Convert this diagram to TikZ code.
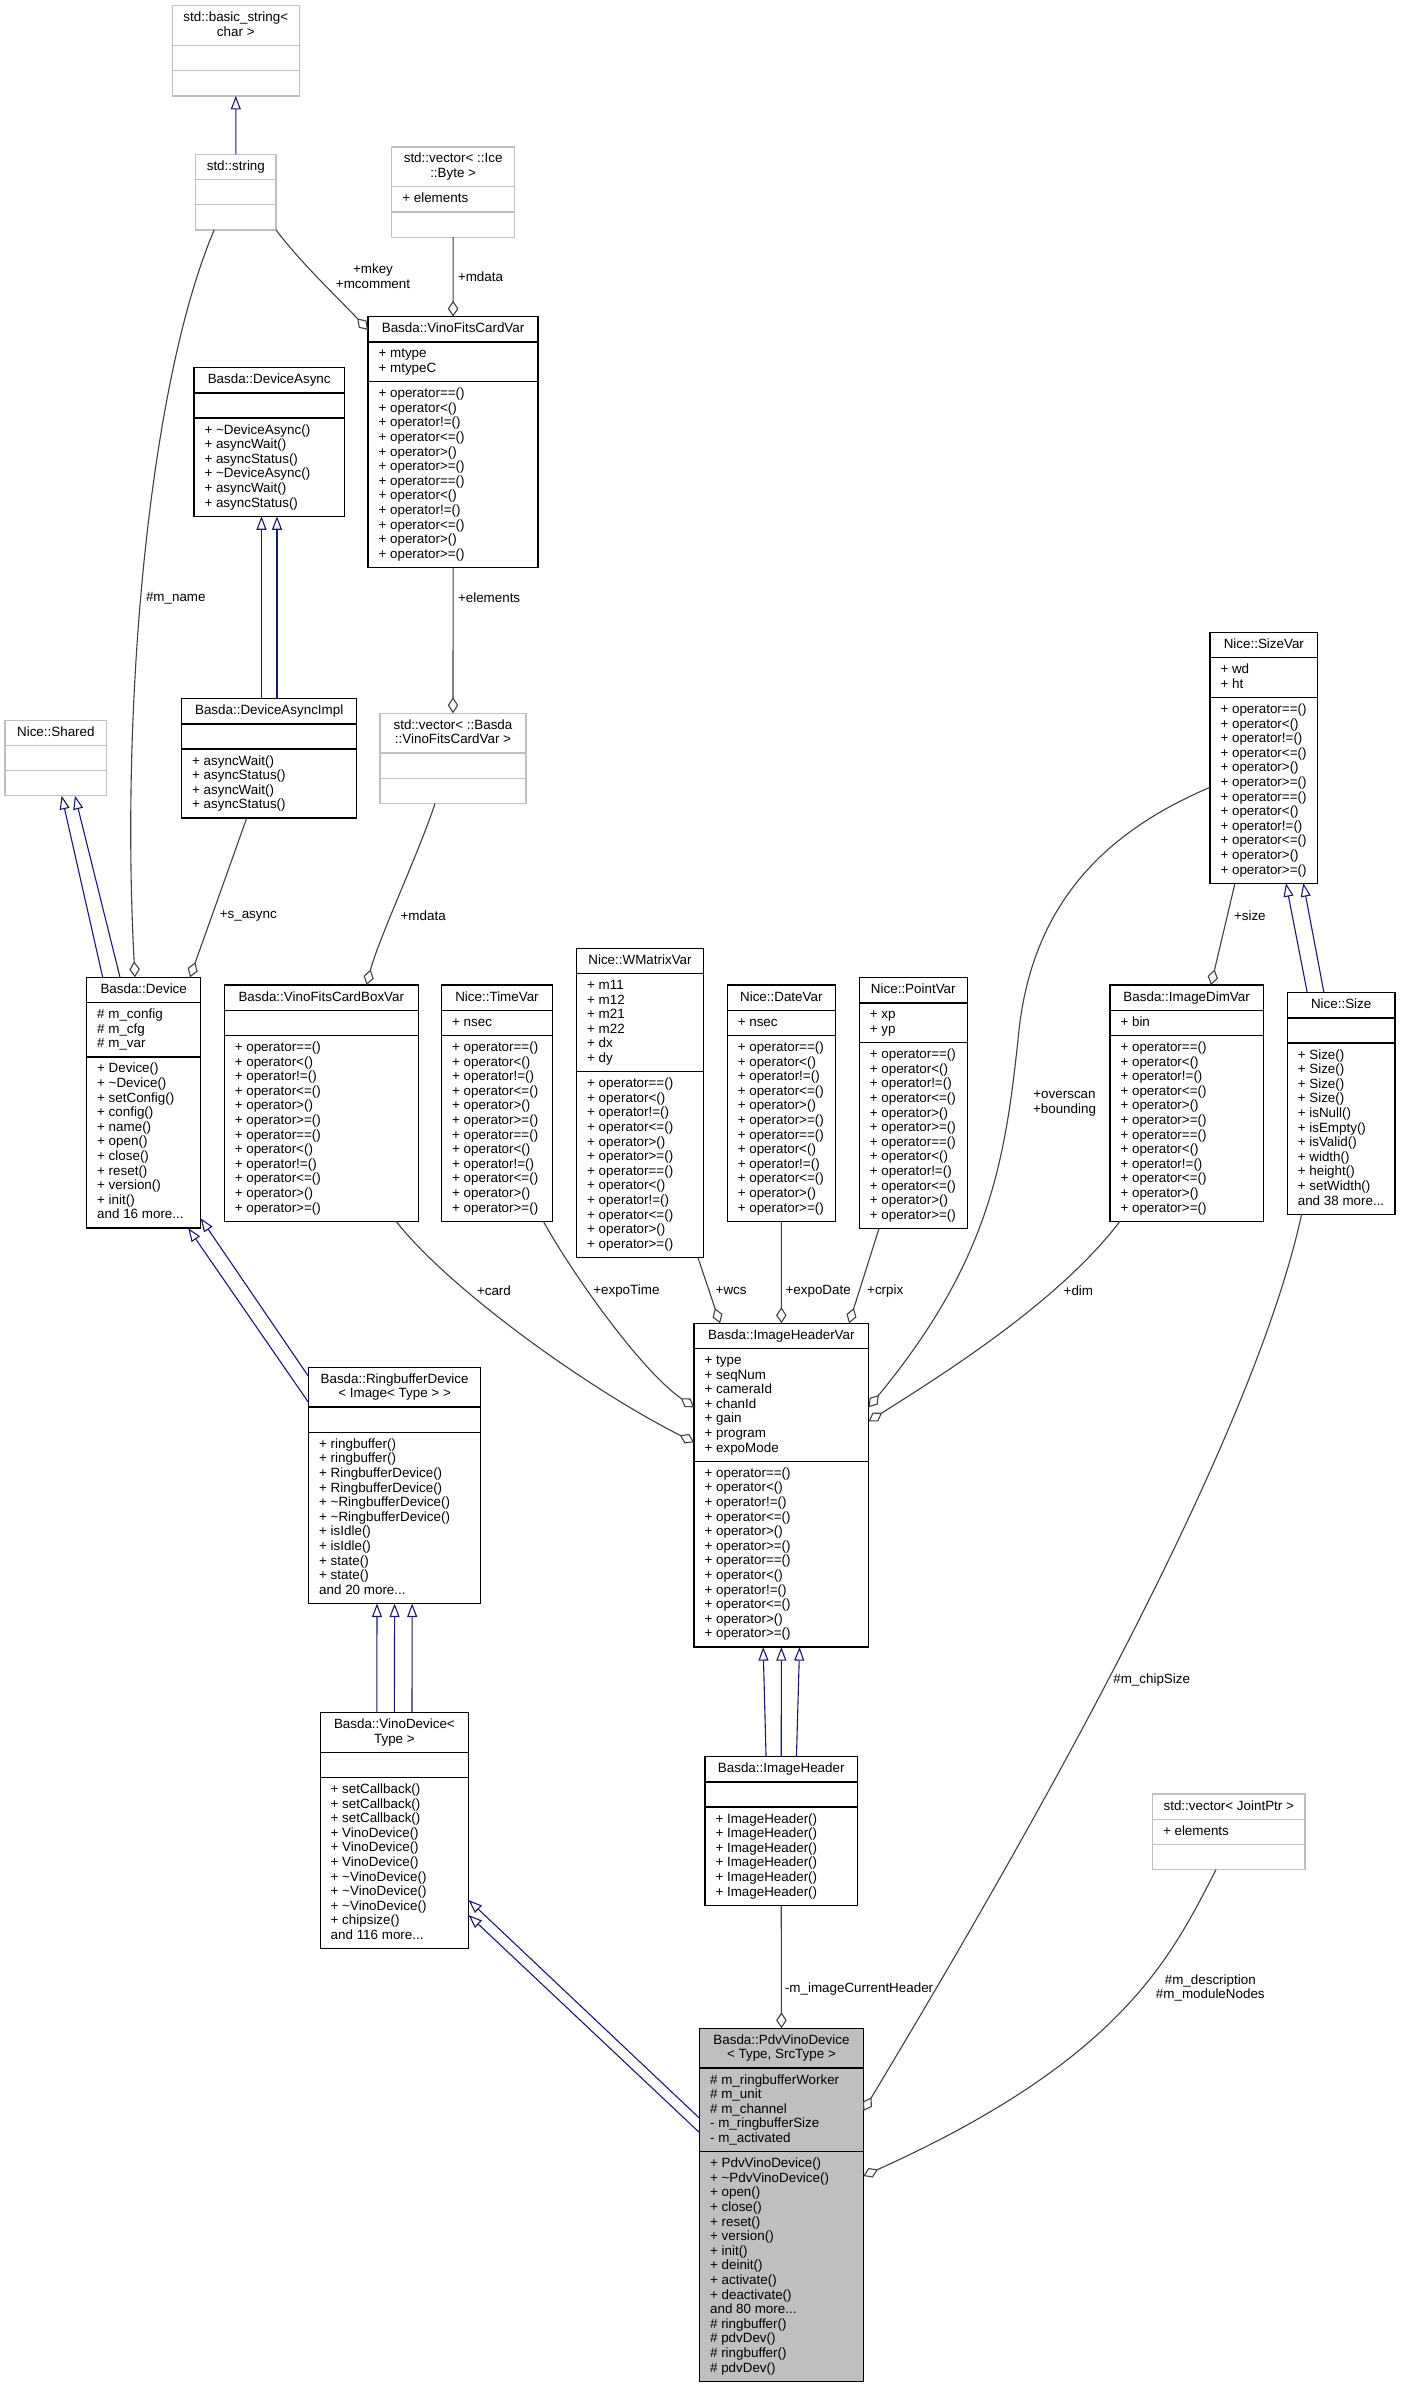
\documentclass[tikz,border=0pt]{standalone}
\usepackage{fontspec}
\setmainfont{Liberation Sans}
\usetikzlibrary{arrows.meta,calc}
\definecolor{grey75}{HTML}{BFBFBF}
\definecolor{edgegray}{HTML}{404040}
\definecolor{inhblue}{HTML}{191970}
\newcommand\ufont{\fontsize{13.4}{14.6}\selectfont}
\newcommand\tld{\textasciitilde}
\newcommand\mdots{...}
\def\opslist{+ operator==(),+ operator<(),+ operator!=(),+ operator<=(),+ operator>(),+ operator>=(),+ operator==(),+ operator<(),+ operator!=(),+ operator<=(),+ operator>(),+ operator>=()}
% #1 name, #2 x, #3 y, #4 width, #5 border (and fill), #6 title lines, #7 attributes, #8 methods
\newcommand\ucls[8]{%
  \gdef\nT{0}\gdef\nA{0}\gdef\nM{0}%
  \expandafter\def\expandafter\tmpT\expandafter{#6}%
  \expandafter\def\expandafter\tmpA\expandafter{#7}%
  \expandafter\def\expandafter\tmpM\expandafter{#8}%
  \ifx\tmpT\empty\else\foreach \ct in \tmpT {\xdef\nT{\the\numexpr\nT+1\relax}}\fi
  \ifx\tmpA\empty\else\foreach \ct in \tmpA {\xdef\nA{\the\numexpr\nA+1\relax}}\fi
  \ifx\tmpM\empty\else\foreach \ct in \tmpM {\xdef\nM{\the\numexpr\nM+1\relax}}\fi
  \pgfmathsetmacro\hT{max(\nT,1)*14.6+10.6}%
  \pgfmathsetmacro\hA{max(\nA,1)*14.6+10.6}%
  \pgfmathsetmacro\hM{max(\nM,1)*14.6+10.6}%
  \pgfmathsetmacro\hTot{\hT+\hA+\hM}%
  \pgfmathsetmacro\hTA{\hT+\hA}%
  \node[ubox,draw=#5,minimum width=#4,minimum height=\hTot,anchor=north west] (#1) at (#2,#3) {};
  \draw[divider,draw=#5] ($(#1.north west)+(0,\hT)$) -- ($(#1.north east)+(0,\hT)$);
  \draw[divider,draw=#5] ($(#1.north west)+(0,\hTA)$) -- ($(#1.north east)+(0,\hTA)$);
  \ifx\tmpT\empty\else\foreach \ct [count=\ci] in \tmpT {\node[utxt,anchor=base] (#1-t\ci) at ($(#1.north)+(0,{16+(\ci-1)*14.6})$) {\ct};}\fi
  \ifx\tmpA\empty\else\foreach \ct [count=\ci] in \tmpA {\node[utxt,anchor=base west] (#1-a\ci) at ($(#1.north west)+(10.5,{\hT+16+(\ci-1)*14.6})$) {\ct};}\fi
  \ifx\tmpM\empty\else\foreach \ct [count=\ci] in \tmpM {\node[utxt,anchor=base west] (#1-m\ci) at ($(#1.north west)+(10.5,{\hTA+16+(\ci-1)*14.6})$) {\ct};}\fi
}
\begin{document}
\begin{tikzpicture}[x=1pt,y=-1pt,
  ubox/.style={rectangle,draw=black,fill=white,line width=1.3,inner sep=0,outer sep=0},
  divider/.style={line width=1.3},
  utxt/.style={inner sep=0,outer sep=0,font=\ufont,text=black},
  lbl/.style={inner sep=0,outer sep=0,font=\ufont,text=black},
  agg/.style={draw=edgegray,line width=1.1,-{Diamond[open,length=16pt,width=10.5pt]}},
  inh/.style={draw=inhblue,line width=1.1,-{Triangle[open,length=13.5pt,width=10pt]}}]
\fill[white] (0,0) rectangle (1401,2389);
\useasboundingbox (0,0) rectangle (1401,2389);

% ---------- classes ----------
\ucls{bstr}{172.3}{5.7}{127}{grey75}{std::basic\_string<,char >}{}{}
\ucls{str}{195.7}{154.3}{80.3}{grey75}{std::string}{}{}
\ucls{vib}{391.8}{147}{122.7}{grey75}{std::vector< ::Ice,::Byte >}{+ elements}{}
\ucls{vfcv}{368.1}{316.7}{170}{black}{Basda::VinoFitsCardVar}{+ mtype,+ mtypeC}{\opslist}
\ucls{da}{194}{367.7}{150.4}{black}{Basda::DeviceAsync}{}{+ \tld DeviceAsync(),+ asyncWait(),+ asyncStatus(),+ \tld DeviceAsync(),+ asyncWait(),+ asyncStatus()}
\ucls{dai}{181.7}{698.7}{175}{black}{Basda::DeviceAsyncImpl}{}{+ asyncWait(),+ asyncStatus(),+ asyncWait(),+ asyncStatus()}
\ucls{shared}{5}{720.2}{101.7}{grey75}{Nice::Shared}{}{}
\ucls{vvfcv}{380}{713.3}{146}{grey75}{std::vector< ::Basda,::VinoFitsCardVar >}{}{}
\ucls{dev}{86.7}{977.3}{114}{black}{Basda::Device}{\# m\_config,\# m\_cfg,\# m\_var}{+ Device(),+ \tld Device(),+ setConfig(),+ config(),+ name(),+ open(),+ close(),+ reset(),+ version(),+ init(),and 16 more\mdots}
\ucls{vfcbv}{224.3}{985}{194}{black}{Basda::VinoFitsCardBoxVar}{}{\opslist}
\ucls{tv}{441.7}{985}{110.6}{black}{Nice::TimeVar}{+ nsec}{\opslist}
\ucls{wm}{576.7}{948.3}{126.6}{black}{Nice::WMatrixVar}{+ m11,+ m12,+ m21,+ m22,+ dx,+ dy}{\opslist}
\ucls{dv}{727.3}{985}{108}{black}{Nice::DateVar}{+ nsec}{\opslist}
\ucls{pv}{859.3}{977.7}{108}{black}{Nice::PointVar}{+ xp,+ yp}{\opslist}
\ucls{sv}{1210}{632.4}{107.7}{black}{Nice::SizeVar}{+ wd,+ ht}{\opslist}
\ucls{idv}{1110}{985.1}{153.3}{black}{Basda::ImageDimVar}{+ bin}{\opslist}
\ucls{sz}{1287.3}{992.7}{107.7}{black}{Nice::Size}{}{+ Size(),+ Size(),+ Size(),+ Size(),+ isNull(),+ isEmpty(),+ isValid(),+ width(),+ height(),+ setWidth(),and 38 more\mdots}
\ucls{rbd}{308.7}{1367.3}{171.8}{black}{Basda::RingbufferDevice,< Image< Type > >}{}{+ ringbuffer(),+ ringbuffer(),+ RingbufferDevice(),+ RingbufferDevice(),+ \tld RingbufferDevice(),+ \tld RingbufferDevice(),+ isIdle(),+ isIdle(),+ state(),+ state(),and 20 more\mdots}
\ucls{ihv}{694.1}{1323.3}{174.5}{black}{Basda::ImageHeaderVar}{+ type,+ seqNum,+ cameraId,+ chanId,+ gain,+ program,+ expoMode}{\opslist}
\ucls{vd}{320.2}{1712.5}{148.4}{black}{Basda::VinoDevice<,Type >}{}{+ setCallback(),+ setCallback(),+ setCallback(),+ VinoDevice(),+ VinoDevice(),+ VinoDevice(),+ \tld VinoDevice(),+ \tld VinoDevice(),+ \tld VinoDevice(),+ chipsize(),and 116 more\mdots}
\ucls{ih}{705}{1756.7}{152.5}{black}{Basda::ImageHeader}{}{+ ImageHeader(),+ ImageHeader(),+ ImageHeader(),+ ImageHeader(),+ ImageHeader(),+ ImageHeader()}
\ucls{vjp}{1152.5}{1794}{152.5}{grey75}{std::vector< JointPtr >}{+ elements}{}
\ucls{pvd}{699.6}{2028.3}{163.7}{black,fill=grey75}{Basda::PdvVinoDevice,{< Type, SrcType >}}{\# m\_ringbufferWorker,\# m\_unit,\# m\_channel,- m\_ringbufferSize,- m\_activated}{+ PdvVinoDevice(),+ \tld PdvVinoDevice(),+ open(),+ close(),+ reset(),+ version(),+ init(),+ deinit(),+ activate(),+ deactivate(),and 80 more\mdots,\# ringbuffer(),\# pdvDev(),\# ringbuffer(),\# pdvDev()}

% ---------- inheritance ----------
\draw[inh] (str.north) -- (bstr.south);
\draw[inh] ([xshift=-7.7]dai.north) -- ([xshift=-7.7]da.south);
\draw[inh] ([xshift=7.8]dai.north) -- ([xshift=7.8]da.south);
\draw[inh] ([xshift=-41]dev.north) -- ([xshift=5.8]shared.south);
\draw[inh] ([xshift=-23.7]dev.north) -- ([xshift=19.1]shared.south);
\draw[inh] ($(rbd.north west)+(0,9.4)$) -- ($(dev.north east)+(0,241)$);
\draw[inh] ($(rbd.north west)+(0,35.4)$) -- ([xshift=44.5]dev.south);
\draw[inh] ([xshift=-17.6]vd.north) -- ([xshift=-17.6]rbd.south);
\draw[inh] (vd.north) -- (rbd.south);
\draw[inh] ([xshift=17.6]vd.north) -- ([xshift=17.6]rbd.south);
\draw[inh] ([xshift=-15.2]ih.north) -- ([xshift=-18.2]ihv.south);
\draw[inh] (ih.north) -- (ihv.south);
\draw[inh] ([xshift=15.2]ih.north) -- ([xshift=18.2]ihv.south);
\draw[inh] ([xshift=-33.9]sz.north) -- ([xshift=22.1]sv.south);
\draw[inh] ([xshift=-17.2]sz.north) -- ([xshift=39.4]sv.south);
\draw[inh] ($(pvd.north west)+(0,90)$) -- ($(vd.north east)+(0,187.5)$);
\draw[inh] ($(pvd.north west)+(0,104.4)$) -- ($(vd.north east)+(0,202.5)$);

% ---------- aggregation ----------
\draw[agg] (str.south east) .. controls (300,262) and (340,300) .. ($(vfcv.north west)+(0,13.3)$);
\draw[agg] (vib.south) -- (vfcv.north);
\draw[agg] ([xshift=-21.6]str.south) .. controls (150,380) and (120,700) .. ([xshift=-8.7]dev.north);
\draw[agg] ([xshift=-22.5]dai.south) -- ([xshift=46.3]dev.north);
\draw[agg] (vfcv.south) -- (vvfcv.north);
\draw[agg] ([xshift=-18]vvfcv.south) .. controls (420,850) and (378,940) .. ([xshift=45.4]vfcbv.north);
\draw[agg] ([xshift=74.7]vfcbv.south) .. controls (450,1290) and (590,1390) .. ($(ihv.north west)+(0,119)$);
\draw[agg] ([xshift=46.3]tv.south) .. controls (570,1270) and (640,1370) .. ($(ihv.north west)+(0,84)$);
\draw[agg] ([xshift=57.9]wm.south) -- ([xshift=-61.3]ihv.north);
\draw[agg] (dv.south) -- (ihv.north);
\draw[agg] ([xshift=-34.3]pv.south) -- ([xshift=67.7]ihv.north);
\draw[agg] ([xshift=-66.7]idv.south) .. controls (1060,1300) and (950,1370) .. ($(ihv.north east)+(0,98)$);
\draw[agg] ($(sv.north west)+(0,154.9)$) .. controls (1110,830) and (1030,900) .. (1018,1040) .. controls (1005,1160) and (990,1260) .. ($(ihv.north east)+(0,84)$);
\draw[agg] ([xshift=-28.9]sv.south) -- ([xshift=24.3]idv.north);
\draw[agg] ([xshift=-39.5]sz.south) .. controls (1250,1450) and (1020,1850) .. ($(pvd.north east)+(0,82.7)$);
\draw[agg] ([xshift=-12.7]vjp.south) .. controls (1171,1957) and (1123,2059) .. ($(pvd.north east)+(0,147.7)$);
\draw[agg] (ih.south) -- (pvd.north);

% ---------- labels ----------
\node[lbl,align=center] (lmkey) at (373,276.5) {+mkey\\+mcomment};
\node[lbl,anchor=west] (lmdata1) at (458,276.7) {+mdata};
\node[lbl,anchor=west] (lmname) at (146,598) {\#m\_name};
\node[lbl,anchor=west] (lelem) at (458,598) {+elements};
\node[lbl] (lsasync) at (248.3,916) {+s\_async};
\node[lbl] (lmdata2) at (423.2,916) {+mdata};
\node[lbl,anchor=west] (lsize) at (1234,915.7) {+size};
\node[lbl,align=center] (lover) at (1064.5,1103.5) {+overscan\\+bounding};
\node[lbl,anchor=west] (lcard) at (477,1291) {+card};
\node[lbl,anchor=west] (lexpot) at (593.3,1291) {+expoTime};
\node[lbl,anchor=west] (lwcs) at (715.7,1291) {+wcs};
\node[lbl,anchor=west] (lexpod) at (785.6,1291) {+expoDate};
\node[lbl,anchor=west] (lcrpix) at (867.2,1291) {+crpix};
\node[lbl,anchor=west] (ldim) at (1063.7,1291) {+dim};
\node[lbl,anchor=west] (lchip) at (1113.3,1680) {\#m\_chipSize};
\node[lbl,anchor=west] (lcur) at (785,1988.7) {-m\_imageCurrentHeader};
\node[lbl,align=center] (ldesc) at (1210.3,1988) {\#m\_description\\\#m\_moduleNodes};
\end{tikzpicture}
\end{document}
